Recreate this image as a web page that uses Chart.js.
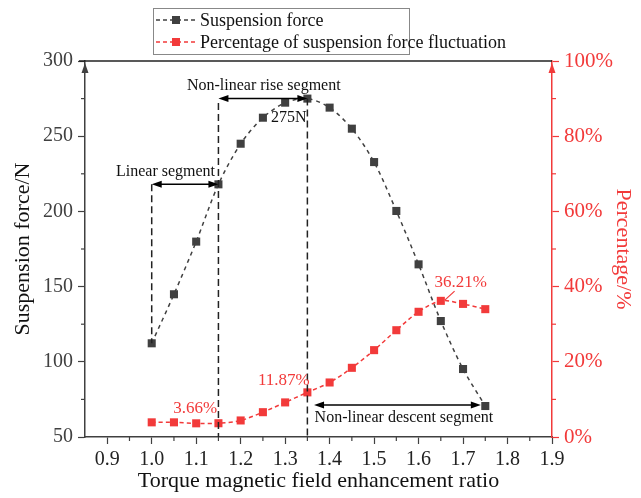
<!DOCTYPE html>
<html>
<head>
<meta charset="utf-8">
<script src="https://cdn.jsdelivr.net/npm/chart.js@4.4.0/dist/chart.umd.min.js"></script>
<style>
  html, body { margin: 0; padding: 0; background: #fff; }
  #wrap { width: 641px; height: 498px; position: relative; }
</style>
</head>
<body>
<div id="wrap"><canvas id="chart"></canvas></div>
<script>
    // data
    const ratios = [1.0, 1.05, 1.1, 1.15, 1.2, 1.25, 1.3, 1.35, 1.4, 1.45, 1.5, 1.55, 1.6, 1.65, 1.7, 1.75];
    const suspensionForce = [112.3, 144.9, 179.9, 218, 245, 262.3, 272.3, 275, 269, 255, 232.8, 200.3, 164.8, 127.1, 95.2, 70.6];
    const fluctuationPct = [3.9, 3.9, 3.64, 3.66, 4.4, 6.6, 9.2, 11.87, 14.5, 18.4, 23.1, 28.4, 33.3, 36.21, 35.4, 34];

    const xTicks = [0.9, 1.0, 1.1, 1.2, 1.3, 1.4, 1.5, 1.6, 1.7, 1.8, 1.9];
    const xMinor = [0.95, 1.05, 1.15, 1.25, 1.35, 1.45, 1.55, 1.65, 1.75, 1.85];
    const forceTicks = [50, 100, 150, 200, 250, 300];
    const forceMinor = [75, 125, 175, 225, 275];
    const pctTicks = [0, 20, 40, 60, 80, 100];
    const pctMinor = [10, 30, 50, 70, 90];

    // segment guides (left axis units)
    const guideX = [1.0, 1.15, 1.35];
    const guideTop = [218, 272, 275];
    const guideBottom = [112.3, 50, 50];

    const arrowFrom = [1.0, 1.15, 1.365];
    const arrowTo = [1.15, 1.35, 1.74];
    const arrowY = [218, 275, 71.3];

    const segLabels = ['Linear segment', 'Non-linear rise segment', '275N', 'Non-linear descent segment'];
    const segLabelX = [1.031, 1.252, 1.308, 1.567];
    const segLabelY = [226.5, 283.5, 262, 62.6];

    const pctLabels = ['3.66%', '11.87%', '36.21%'];
    const pctLabelX = [1.098, 1.297, 1.695];
    const pctLabelY = [7.7, 14.9, 41.2];
    const leaderX = [1.659, 1.681];
    const leaderY = [36.4, 38.8];

    const GREY = '#404040';
    const RED = '#f23a3a';
    const FONT = 'Liberation Serif';

    const annotations = {
        id: 'annotations',
        afterDatasetsDraw(chart) {
            const ctx = chart.ctx;
            const x = chart.scales.x, y = chart.scales.y, y1 = chart.scales.y1;
            const a = chart.chartArea;
            ctx.save();

            // guide lines
            ctx.strokeStyle = '#222';
            ctx.lineWidth = 1.5;
            ctx.setLineDash([7, 4]);
            guideX.forEach((gx, i) => {
                ctx.beginPath();
                ctx.moveTo(x.getPixelForValue(gx), y.getPixelForValue(guideTop[i]));
                ctx.lineTo(x.getPixelForValue(gx), y.getPixelForValue(guideBottom[i]));
                ctx.stroke();
            });
            ctx.setLineDash([]);

            // double arrows
            ctx.fillStyle = '#000';
            ctx.strokeStyle = '#000';
            ctx.lineWidth = 1.5;
            arrowFrom.forEach((f, i) => {
                const x0 = x.getPixelForValue(f), x1 = x.getPixelForValue(arrowTo[i]);
                const py = y.getPixelForValue(arrowY[i]);
                ctx.beginPath();
                ctx.moveTo(x0 + 6, py);
                ctx.lineTo(x1 - 6, py);
                ctx.stroke();
                ctx.beginPath();
                ctx.moveTo(x0, py); ctx.lineTo(x0 + 10, py - 3.5); ctx.lineTo(x0 + 10, py + 3.5); ctx.closePath();
                ctx.moveTo(x1, py); ctx.lineTo(x1 - 10, py - 3.5); ctx.lineTo(x1 - 10, py + 3.5); ctx.closePath();
                ctx.fill();
            });

            ctx.textAlign = 'center';
            ctx.textBaseline = 'middle';
            ctx.font = '16px "' + FONT + '"';
            ctx.fillStyle = '#111';
            segLabels.forEach((t, i) => {
                ctx.fillText(t, x.getPixelForValue(segLabelX[i]), y.getPixelForValue(segLabelY[i]));
            });

            ctx.font = '17px "' + FONT + '"';
            ctx.fillStyle = RED;
            pctLabels.forEach((t, i) => {
                ctx.fillText(t, x.getPixelForValue(pctLabelX[i]), y1.getPixelForValue(pctLabelY[i]));
            });
            ctx.strokeStyle = RED;
            ctx.lineWidth = 1.2;
            ctx.beginPath();
            ctx.moveTo(x.getPixelForValue(leaderX[0]), y1.getPixelForValue(leaderY[0]));
            ctx.lineTo(x.getPixelForValue(leaderX[1]), y1.getPixelForValue(leaderY[1]));
            ctx.stroke();

            // frame: top border + axis arrowheads
            ctx.strokeStyle = '#222';
            ctx.lineWidth = 1.5;
            ctx.beginPath();
            ctx.moveTo(a.left - 6, a.top);
            ctx.lineTo(a.right, a.top);
            ctx.stroke();

            ctx.fillStyle = GREY;
            ctx.beginPath();
            ctx.moveTo(a.left, a.top + 2); ctx.lineTo(a.left - 3.5, a.top + 12); ctx.lineTo(a.left + 3.5, a.top + 12); ctx.closePath();
            ctx.fill();
            ctx.fillStyle = RED;
            ctx.beginPath();
            ctx.moveTo(a.right, a.top + 2); ctx.lineTo(a.right - 3.5, a.top + 12); ctx.lineTo(a.right + 3.5, a.top + 12); ctx.closePath();
            ctx.fill();

            // minor ticks
            ctx.lineWidth = 1.2;
            ctx.strokeStyle = GREY;
            xMinor.forEach(v => {
                const px = x.getPixelForValue(v);
                ctx.beginPath(); ctx.moveTo(px, a.bottom); ctx.lineTo(px, a.bottom + 4); ctx.stroke();
            });
            forceMinor.forEach(v => {
                const py = y.getPixelForValue(v);
                ctx.beginPath(); ctx.moveTo(a.left, py); ctx.lineTo(a.left - 4, py); ctx.stroke();
            });
            ctx.strokeStyle = RED;
            pctMinor.forEach(v => {
                const py = y1.getPixelForValue(v);
                ctx.beginPath(); ctx.moveTo(a.right, py); ctx.lineTo(a.right + 4, py); ctx.stroke();
            });

            // legend box
            const lx = 153, ly = 8, lw = 256, lh = 46;
            ctx.fillStyle = '#fff';
            ctx.fillRect(lx, ly, lw, lh);
            ctx.strokeStyle = '#888';
            ctx.lineWidth = 1;
            ctx.strokeRect(lx + 0.5, ly + 0.5, lw, lh);
            ctx.textAlign = 'left';
            ctx.font = '18px "' + FONT + '"';
            chart.data.datasets.forEach((ds, i) => {
                const ry = ly + 12 + i * 22;
                ctx.strokeStyle = ds.borderColor;
                ctx.lineWidth = 1.5;
                ctx.setLineDash([4, 3]);
                ctx.beginPath(); ctx.moveTo(lx + 3, ry); ctx.lineTo(lx + 42, ry); ctx.stroke();
                ctx.setLineDash([]);
                ctx.fillStyle = ds.borderColor;
                ctx.fillRect(lx + 19, ry - 4, 8, 8);
                ctx.fillStyle = '#111';
                ctx.fillText(ds.label, lx + 47, ry + 1);
            });
            ctx.restore();
        }
    };

    const ctx = document.getElementById('chart').getContext('2d');
    new Chart(ctx, {
        type: 'line',
        data: {
            datasets: [{
                label: 'Suspension force',
                data: ratios.map((r, i) => ({ x: r, y: suspensionForce[i] })),
                yAxisID: 'y',
                borderColor: GREY,
                backgroundColor: GREY,
                borderWidth: 1.5,
                borderDash: [4, 4],
                pointStyle: 'rect',
                pointRadius: 5.7,
                pointBorderWidth: 0,
                tension: 0.3
            }, {
                label: 'Percentage of suspension force fluctuation',
                data: ratios.map((r, i) => ({ x: r, y: fluctuationPct[i] })),
                yAxisID: 'y1',
                borderColor: RED,
                backgroundColor: RED,
                borderWidth: 1.5,
                borderDash: [4, 3],
                pointStyle: 'rect',
                pointRadius: 5.7,
                pointBorderWidth: 0,
                tension: 0.3
            }]
        },
        options: {
            responsive: true,
            maintainAspectRatio: false,
            animation: false,
            layout: { padding: { top: 61, left: 0, right: 0, bottom: 0 } },
            plugins: {
                legend: { display: false },
                tooltip: { enabled: false }
            },
            scales: {
                x: {
                    type: 'linear',
                    min: 0.85,
                    max: 1.9,
                    afterBuildTicks: s => { s.ticks = xTicks.map(v => ({ value: v })); },
                    afterFit: s => { s.height = 61; },
                    grid: { drawOnChartArea: false, tickLength: 7, tickColor: GREY, tickWidth: 1.2 },
                    border: { color: GREY, width: 1.5 },
                    ticks: {
                        color: '#222', padding: 4, maxRotation: 0,
                        font: { family: FONT, size: 20 },
                        callback: v => v.toFixed(1)
                    },
                    title: {
                        display: true, text: 'Torque magnetic field enhancement ratio',
                        color: '#111', font: { family: FONT, size: 22 }, padding: { top: 0, bottom: 4 }
                    }
                },
                y: {
                    position: 'left',
                    min: 50,
                    max: 300,
                    afterBuildTicks: s => { s.ticks = forceTicks.map(v => ({ value: v })); },
                    afterFit: s => { s.width = 85; },
                    grid: { drawOnChartArea: false, tickLength: 7, tickColor: GREY, tickWidth: 1.2 },
                    border: { color: GREY, width: 1.5 },
                    ticks: { color: GREY, padding: 5, font: { family: FONT, size: 20 } },
                    title: {
                        display: true, text: 'Suspension force/N',
                        color: '#111', font: { family: FONT, size: 22 }, padding: { top: 10, bottom: 0 }
                    }
                },
                y1: {
                    position: 'right',
                    min: 0,
                    max: 100,
                    afterBuildTicks: s => { s.ticks = pctTicks.map(v => ({ value: v })); },
                    afterFit: s => { s.width = 89; },
                    grid: { drawOnChartArea: false, tickLength: 7, tickColor: RED, tickWidth: 1.2 },
                    border: { color: RED, width: 1.5 },
                    ticks: { color: RED, padding: 5, font: { family: FONT, size: 21 }, callback: v => v + '%' },
                    title: {
                        display: true, text: 'Percentage/%',
                        color: RED, font: { family: FONT, size: 22 }, padding: { top: 5, bottom: 0 }
                    }
                }
            }
        },
        plugins: [annotations]
    });
</script>
</body>
</html>
